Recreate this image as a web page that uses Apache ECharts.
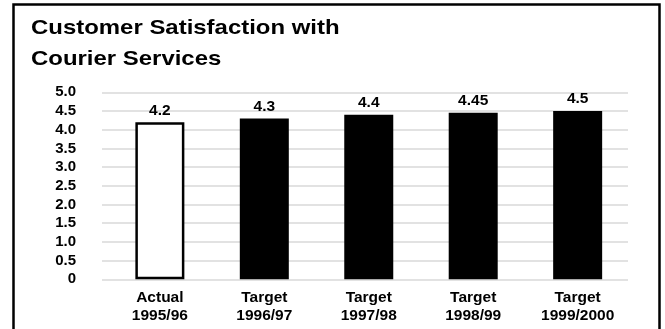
<!DOCTYPE html>
<html>
<head>
<meta charset="utf-8">
<style>
  html, body { margin: 0; padding: 0; background: #fff; }
  #chart { width: 665px; height: 329px; }
</style>
<script src="https://cdn.jsdelivr.net/npm/echarts@6/dist/echarts.min.js"></script>
</head>
<body>
<div id="chart"></div>
<script>
// Chart data
const categories = ['Actual\n1995/96', 'Target\n1996/97', 'Target\n1997/98', 'Target\n1998/99', 'Target\n1999/2000'];
const scores = [4.2, 4.3, 4.4, 4.45, 4.5];
const scoreLabels = ['4.2', '4.3', '4.4', '4.45', '4.5'];
const yTicks = [0, 0.5, 1.0, 1.5, 2.0, 2.5, 3.0, 3.5, 4.0, 4.5, 5.0];
const yTickLabels = ['0', '0.5', '1.0', '1.5', '2.0', '2.5', '3.0', '3.5', '4.0', '4.5', '5.0'];

const FONT = 'Liberation Sans, Arial, Helvetica, sans-serif';

const chart = echarts.init(document.getElementById('chart'), null, { renderer: 'canvas' });

// first bar is the actual result (outlined), the rest are targets (solid)
const barData = scores.map((v, i) => ({
  value: [i, v],
  itemStyle: i === 0
    ? { color: '#ffffff', borderColor: '#000000', borderWidth: 2.5 }
    : { color: '#000000' },
  label: { formatter: scoreLabels[i] }
}));

chart.setOption({
  animation: false,
  backgroundColor: '#ffffff',
  graphic: [
    {
      type: 'rect',
      shape: { x: 13.5, y: 4.5, width: 646, height: 340 },
      style: { fill: null, stroke: '#000', lineWidth: 2.5 },
      silent: true
    },
    {
      // heading, drawn slightly wide
      type: 'text',
      x: 31,
      y: 13,
      scaleX: 1.14,
      style: {
        text: 'Customer Satisfaction with\nCourier Services',
        font: 'bold 21px ' + FONT,
        fill: '#000',
        lineHeight: 31
      }
    }
  ],
  grid: { left: 102, right: 37, top: 92.3, bottom: 49.7, containLabel: false },
  xAxis: {
    type: 'value',
    min: -0.554,
    max: 4.482,
    splitLine: { show: false },
    axisLine: { show: false },
    axisTick: { show: false },
    axisLabel: {
      customValues: [0, 1, 2, 3, 4],
      formatter: v => categories[Math.round(v)],
      color: '#000',
      fontFamily: FONT,
      fontWeight: 'bold',
      fontSize: 15.5,
      lineHeight: 18.5,
      margin: 9
    }
  },
  yAxis: {
    type: 'value',
    min: 0,
    max: 5,
    interval: 0.5,
    axisLine: { show: false },
    axisTick: { show: false },
    splitLine: { show: true, lineStyle: { color: '#d9d9d9', width: 1.5 } },
    axisLabel: {
      color: '#000',
      fontFamily: FONT,
      fontWeight: 'bold',
      fontSize: 15,
      margin: 26,
      formatter: v => {
        const k = yTicks.findIndex(t => Math.abs(t - v) < 1e-6);
        return k >= 0 ? yTickLabels[k] : '';
      }
    }
  },
  series: [{
    type: 'bar',
    data: barData,
    barWidth: 49,
    label: {
      show: true,
      position: 'top',
      distance: 4,
      color: '#000',
      fontFamily: FONT,
      fontWeight: 'bold',
      fontSize: 15.5
    }
  }]
});
</script>
</body>
</html>
